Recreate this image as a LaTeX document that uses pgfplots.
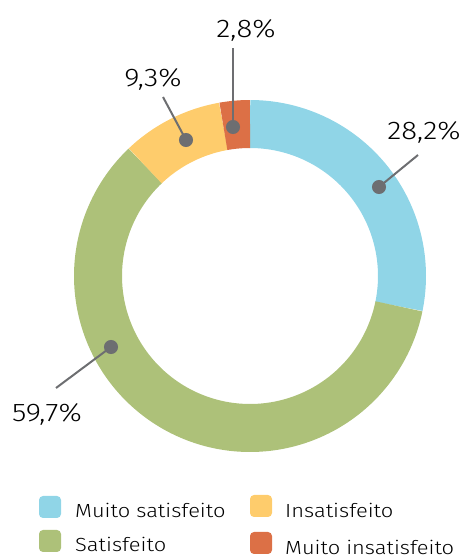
\documentclass[border=0pt]{standalone}
\usepackage{pgfplots}
\usepackage{pgfplotstable}
\pgfplotsset{compat=1.18}
\usepackage{fontspec}
\setmainfont{Fira Sans Light}[FakeStretch=1.15]
\definecolor{cBlue}{HTML}{90D5E7}
\definecolor{cGreen}{HTML}{ADC179}
\definecolor{cYellow}{HTML}{FECC6C}
\definecolor{cRed}{HTML}{DC7046}
\definecolor{cText}{HTML}{6D6E71}
\pgfplotstableread{
label value
MuitoSatisfeito 28.2
Satisfeito 59.7
Insatisfeito 9.3
MuitoInsatisfeito 2.8
}\datatable
\begin{document}
\begin{tikzpicture}
\pgfplotstablegetelem{0}{value}\of\datatable \let\va\pgfplotsretval
\pgfplotstablegetelem{1}{value}\of\datatable \let\vb\pgfplotsretval
\pgfplotstablegetelem{2}{value}\of\datatable \let\vc\pgfplotsretval
\pgfplotstablegetelem{3}{value}\of\datatable \let\vd\pgfplotsretval
\pgfmathsetmacro\aA{90}
\pgfmathsetmacro\aB{\aA-3.6*\va}
\pgfmathsetmacro\aC{\aB-3.6*\vb}
\pgfmathsetmacro\aD{\aC-3.6*\vc}
\pgfmathsetmacro\aE{\aD-3.6*\vd}
\begin{axis}[
  scale only axis, width=465pt, height=558pt,
  xmin=0, xmax=465, ymin=0, ymax=558,
  hide axis, clip=false,
  every node/.style={text=cText},
]
\addplot[draw=none] coordinates {(0,0) (465,558)};
% ring segments
\addplot[cBlue, line width=48pt, domain=\aA:\aB, samples=80, line cap=butt] ({250+152*cos(x)},{282+152*sin(x)});
\addplot[cGreen, line width=48pt, domain=\aB:\aC, samples=150, line cap=butt] ({250+152*cos(x)},{282+152*sin(x)});
\addplot[cYellow, line width=48pt, domain=\aC:\aD, samples=40, line cap=butt] ({250+152*cos(x)},{282+152*sin(x)});
\addplot[cRed, line width=48pt, domain=\aD:\aE, samples=20, line cap=butt] ({250+152*cos(x)},{282+152*sin(x)});
% leader lines with dots
\addplot[cText, line width=2pt, mark=*, mark size=6pt, mark indices={1}, mark options={fill=cText, draw=none}] coordinates {(233,431) (233,510)};
\addplot[cText, line width=2pt, mark=*, mark size=6pt, mark indices={1}, mark options={fill=cText, draw=none}] coordinates {(379,371) (418,403)};
\addplot[cText, line width=2pt, mark=*, mark size=6pt, mark indices={1}, mark options={fill=cText, draw=none}] coordinates {(186,418) (163,461)};
\addplot[cText, line width=2pt, mark=*, mark size=6pt, mark indices={1}, mark options={fill=cText, draw=none}] coordinates {(111,211) (56,170)};
% labels
\node[anchor=base, font=\fontsize{25.5}{28}\selectfont] at (axis cs:246,520) {2,8\%};
\node[anchor=base, font=\fontsize{25.5}{28}\selectfont] at (axis cs:424,418) {28,2\%};
\node[anchor=base, font=\fontsize{25.5}{28}\selectfont] at (axis cs:153,471) {9,3\%};
\node[anchor=base, font=\fontsize{25.5}{28}\selectfont] at (axis cs:47,136) {59,7\%};
% legend
\addplot[fill=cBlue, draw=none, rounded corners=4pt] coordinates {(39,40) (61,40) (61,62) (39,62)} --cycle;
\addplot[fill=cGreen, draw=none, rounded corners=4pt] coordinates {(39,6) (61,6) (61,28) (39,28)} --cycle;
\addplot[fill=cYellow, draw=none, rounded corners=4pt] coordinates {(250,41) (272,41) (272,63) (250,63)} --cycle;
\addplot[fill=cRed, draw=none, rounded corners=4pt] coordinates {(250,4) (272,4) (272,26) (250,26)} --cycle;
\node[anchor=base west, inner sep=0pt, font=\fontsize{19}{22}\selectfont] at (axis cs:75,41) {Muito satisfeito};
\node[anchor=base west, inner sep=0pt, font=\fontsize{19}{22}\selectfont] at (axis cs:75,6) {Satisfeito};
\node[anchor=base west, inner sep=0pt, font=\fontsize{19}{22}\selectfont] at (axis cs:285,41) {Insatisfeito};
\node[anchor=base west, inner sep=0pt, font=\fontsize{19}{22}\selectfont] at (axis cs:285,4) {Muito insatisfeito};
\end{axis}
\end{tikzpicture}
\end{document}
